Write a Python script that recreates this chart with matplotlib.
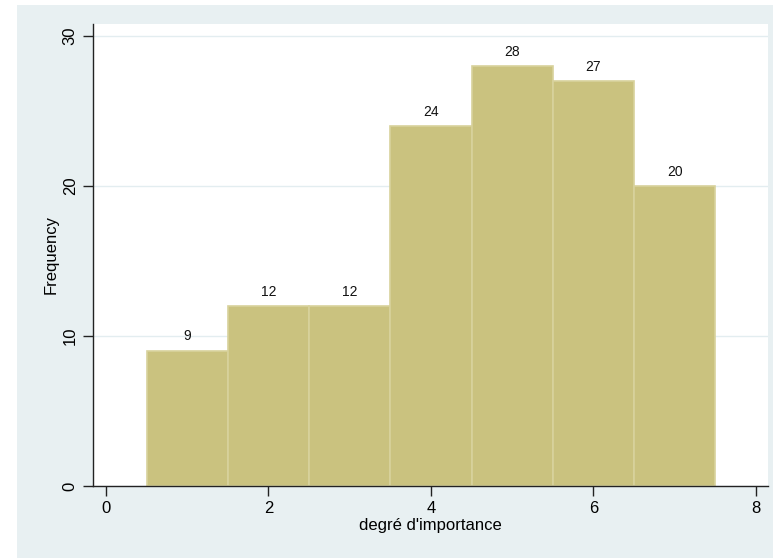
import matplotlib.pyplot as plt
from matplotlib.patches import Rectangle

plt.rcParams['font.family'] = ['Liberation Sans', 'DejaVu Sans']

# histogram of "degré d'importance"
levels = [1, 2, 3, 4, 5, 6, 7]
counts = [9, 12, 12, 24, 28, 27, 20]
xticks = [0, 2, 4, 6, 8]
yticks = [0, 10, 20, 30]

bar_color = '#CAC27F'
edge_color = '#D8D29C'
bg_color = '#E8F0F2'

fig = plt.figure(figsize=(7.73, 5.58), dpi=100)
fig.patches.append(Rectangle((17 / 773, 0), 1, (558 - 5) / 558,
                             transform=fig.transFigure, facecolor=bg_color,
                             edgecolor='none', zorder=-1))

ax = fig.add_axes([93 / 773, (558 - 486) / 558, (768 - 93) / 773, (486 - 24) / 558])
ax.set_facecolor('white')

bars = ax.bar(levels, counts, width=1.0, color=bar_color, edgecolor=edge_color,
              linewidth=1.2, zorder=2)
for b, c in zip(bars, counts):
    ax.text(b.get_x() + b.get_width() / 2, c + 0.5, str(c), ha='center', va='bottom',
            fontsize=10, color='#111111')

ax.set_xlim(-0.16, 8.15)
ax.set_ylim(0, 30.8)
ax.set_xticks(xticks)
ax.set_yticks(yticks)
ax.set_yticklabels([str(t) for t in yticks], rotation=90, va='center')
ax.tick_params(axis='both', direction='out', length=7, width=1, labelsize=12, color='#222222')
ax.tick_params(axis='x', pad=4)
ax.tick_params(axis='y', pad=4)
ax.grid(axis='y', color='#E3EDF0', linewidth=1, zorder=0)

for s in ['top', 'right']:
    ax.spines[s].set_visible(False)
for s in ['left', 'bottom']:
    ax.spines[s].set_color('#222222')
    ax.spines[s].set_linewidth(1)

ax.set_xlabel("degré d'importance", fontsize=12, labelpad=1)
ax.set_ylabel('Frequency', fontsize=12, labelpad=3)

fig.savefig('out.png', dpi=100, facecolor='white')
